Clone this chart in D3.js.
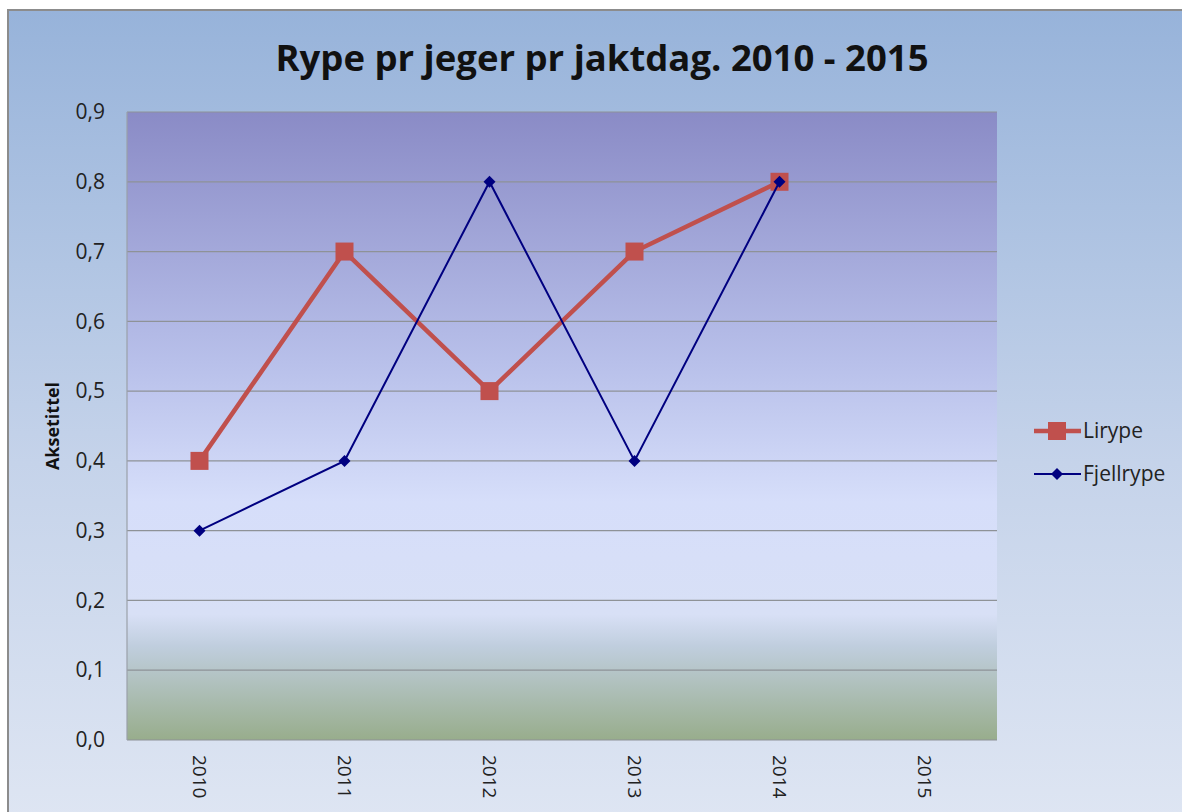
<!DOCTYPE html>
<html lang="no">
<head>
    <meta charset="UTF-8">
    <title>Rype pr jeger pr jaktdag</title>
    <script src="https://d3js.org/d3.v7.min.js"></script>
    <style>
        body { margin: 0; background: #fff; }
        text { font-family: "Open Sans", Lato, sans-serif; }
    </style>
</head>
<body>
<script>
    const width = 1182;
    const height = 812;

    const years = ["2010", "2011", "2012", "2013", "2014", "2015"];
    const lirype = [0.4, 0.7, 0.5, 0.7, 0.8, null];
    const fjellrype = [0.3, 0.4, 0.8, 0.4, 0.8, null];
    const yTicks = [0, 0.1, 0.2, 0.3, 0.4, 0.5, 0.6, 0.7, 0.8, 0.9];

    const plot = {left: 127, right: 997, top: 112, bottom: 740};

    const svg = d3.select("body").append("svg")
        .attr("width", width).attr("height", height);

    const defs = svg.append("defs");
    const bg = defs.append("linearGradient").attr("id", "bg")
        .attr("x1", 0).attr("y1", 0).attr("x2", 0).attr("y2", 1);
    bg.append("stop").attr("offset", "0%").attr("stop-color", "#97b3da");
    bg.append("stop").attr("offset", "55%").attr("stop-color", "#c5d3ea");
    bg.append("stop").attr("offset", "100%").attr("stop-color", "#dfe6f3");

    const pg = defs.append("linearGradient").attr("id", "pg")
        .attr("x1", 0).attr("y1", 0).attr("x2", 0).attr("y2", 1);
    pg.append("stop").attr("offset", "0%").attr("stop-color", "#8a8bc6");
    pg.append("stop").attr("offset", "40%").attr("stop-color", "#b8c0ea");
    pg.append("stop").attr("offset", "62%").attr("stop-color", "#d6defa");
    pg.append("stop").attr("offset", "80%").attr("stop-color", "#d8e0f6");
    pg.append("stop").attr("offset", "85%").attr("stop-color", "#c0cede");
    pg.append("stop").attr("offset", "100%").attr("stop-color", "#98ad8c");

    // chart frame
    svg.append("rect")
        .attr("x", 8).attr("y", 10).attr("width", width + 10).attr("height", height + 10)
        .attr("fill", "url(#bg)").attr("stroke", "#8c8c8c").attr("stroke-width", 2);

    svg.append("rect")
        .attr("x", plot.left).attr("y", plot.top)
        .attr("width", plot.right - plot.left).attr("height", plot.bottom - plot.top)
        .attr("fill", "url(#pg)");

    const x = d3.scaleBand().domain(years).range([plot.left, plot.right]);
    const y = d3.scaleLinear().domain([0, 0.9]).range([plot.bottom, plot.top]);
    const cx = d => x(d) + x.bandwidth() / 2;
    const fmt = d => d3.format(".1f")(d).replace(".", ",");

    // grid lines
    svg.append("g").selectAll("line")
        .data(yTicks)
        .join("line")
        .attr("x1", plot.left).attr("x2", plot.right)
        .attr("y1", d => y(d)).attr("y2", d => y(d))
        .attr("stroke", "#8e9297").attr("stroke-width", 1.2);

    svg.append("line")
        .attr("x1", plot.left).attr("x2", plot.left)
        .attr("y1", plot.top).attr("y2", plot.bottom)
        .attr("stroke", "#9aa0a8").attr("stroke-width", 1.2);

    // y axis labels
    const yAxis = svg.append("g")
        .attr("transform", `translate(${plot.left},0)`)
        .call(d3.axisLeft(y).tickValues(yTicks).tickFormat(fmt).tickSize(0).tickPadding(22));
    yAxis.select(".domain").remove();
    yAxis.selectAll("text")
        .attr("font-size", 21).attr("fill", "#222")
        .attr("font-family", "'Open Sans'");

    // x axis labels
    const xAxis = svg.append("g")
        .attr("transform", `translate(0,${plot.bottom})`)
        .call(d3.axisBottom(x).tickSize(0));
    xAxis.select(".domain").remove();
    xAxis.selectAll("text")
        .attr("font-size", 19).attr("fill", "#222")
        .attr("font-family", "'DejaVu Sans'")
        .attr("transform", "rotate(90)")
        .attr("x", 15).attr("y", 0).attr("dy", "0.35em")
        .attr("text-anchor", "start");

    svg.append("text")
        .attr("transform", `translate(59,426) rotate(-90)`)
        .attr("text-anchor", "middle")
        .attr("font-size", 18).attr("font-weight", "bold").attr("fill", "#111")
        .text("Aksetittel");

    svg.append("text")
        .attr("x", 602).attr("y", 71)
        .attr("text-anchor", "middle")
        .attr("font-size", 36).attr("font-weight", "bold").attr("fill", "#111")
        .attr("textLength", 653).attr("lengthAdjust", "spacingAndGlyphs")
        .text("Rype pr jeger pr jaktdag. 2010 - 2015");

    const line = d3.line()
        .defined(d => d.v != null)
        .x(d => cx(d.k)).y(d => y(d.v));

    const series = [
        {name: "Lirype", values: lirype, color: "#c0504d", width: 4.5, marker: "square", size: 18},
        {name: "Fjellrype", values: fjellrype, color: "#000080", width: 2, marker: "diamond", size: 10}
    ];

    function drawMarker(g, s, px, py) {
        if (s.marker === "square") {
            g.append("rect")
                .attr("x", px - s.size / 2).attr("y", py - s.size / 2)
                .attr("width", s.size).attr("height", s.size)
                .attr("fill", s.color);
        } else {
            const h = s.size / 2 + 1;
            g.append("path")
                .attr("d", `M${px},${py - h}L${px + h},${py}L${px},${py + h}L${px - h},${py}Z`)
                .attr("fill", s.color);
        }
    }

    series.forEach(s => {
        const pts = years.map((k, i) => ({k, v: s.values[i]}));
        svg.append("path")
            .datum(pts)
            .attr("d", line)
            .attr("fill", "none")
            .attr("stroke", s.color)
            .attr("stroke-width", s.width);
        const g = svg.append("g");
        pts.filter(d => d.v != null).forEach(d => drawMarker(g, s, cx(d.k), y(d.v)));
    });

    // legend
    series.forEach((s, i) => {
        const ly = 431 + i * 43;
        svg.append("line")
            .attr("x1", 1034).attr("x2", 1081).attr("y1", ly).attr("y2", ly)
            .attr("stroke", s.color).attr("stroke-width", s.width);
        drawMarker(svg, s, 1057, ly);
        svg.append("text")
            .attr("x", 1083).attr("y", ly).attr("dy", "0.35em")
            .attr("font-size", 21).attr("fill", "#222")
            .text(s.name);
    });
</script>
</body>
</html>
